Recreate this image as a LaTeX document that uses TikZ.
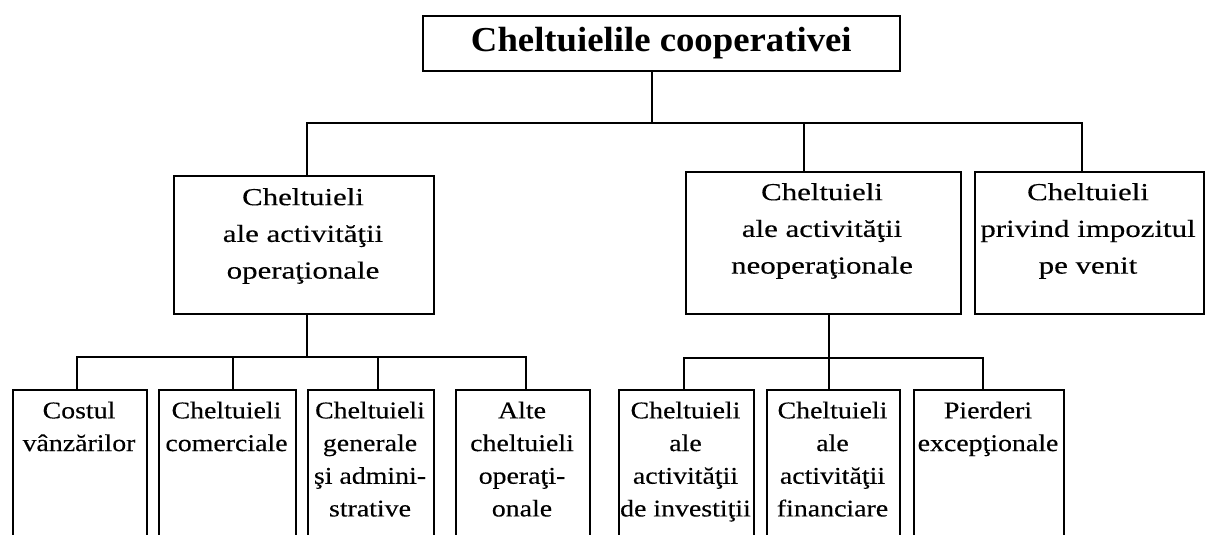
\documentclass[tikz,border=0pt]{standalone}
\usepackage{fontspec}
\setmainfont{Liberation Serif}
\newfontfamily\midfont[FakeStretch=1.26,FakeBold=0.3]{Liberation Serif}
\newfontfamily\lowfont[FakeStretch=1.16,FakeBold=0.3]{Liberation Serif}
\newfontfamily\topfont[FakeStretch=1.05]{Liberation Serif}
\usetikzlibrary{calc}
\begin{document}
\begin{tikzpicture}[x=1pt,y=-1pt,
  box/.style={draw, line width=1.6pt, inner sep=0pt, anchor=north west},
  conn/.style={line width=1.3pt},
  midtxt/.style={font=\midfont\fontsize{24.5}{36.7}\selectfont, align=center, inner sep=0pt, anchor=north},
  lowtxt/.style={font=\lowfont\fontsize{24}{32.7}\selectfont, align=center, inner sep=0pt, anchor=north}]
\useasboundingbox (0,0) rectangle (1205,535);
\clip (0,0) rectangle (1205,535);
% top
\node[box, minimum width=477, minimum height=55, font=\topfont\bfseries\fontsize{35}{40}\selectfont] (top) at (422,15) {Cheltuielile cooperativei};
% level 2
\node[box, minimum width=260, minimum height=138] (op) at (173,175) {};
\node[box, minimum width=275, minimum height=142] (neop) at (685,171) {};
\node[box, minimum width=229, minimum height=142] (imp) at (974,171) {};
\node[midtxt] (opt) at (303,188) {Cheltuieli\\ale activităţii\\operaţionale};
\node[midtxt] (neopt) at (822,183) {Cheltuieli\\ale activităţii\\neoperaţionale};
\node[midtxt] (impt) at (1088,183) {Cheltuieli\\privind impozitul\\pe venit};
% level 3
\node[box, minimum width=134, minimum height=200] (c1) at (12,389) {};
\node[box, minimum width=137, minimum height=200] (c2) at (158,389) {};
\node[box, minimum width=126, minimum height=200] (c3) at (307,389) {};
\node[box, minimum width=134, minimum height=200] (c4) at (455,389) {};
\node[box, minimum width=135, minimum height=200] (c5) at (618,389) {};
\node[box, minimum width=133, minimum height=200] (c6) at (766,389) {};
\node[box, minimum width=150, minimum height=200] (c7) at (913,389) {};
\node[lowtxt] (c1t) at (79,401.5) {Costul\\vânzărilor};
\node[lowtxt] (c2t) at (226.5,401.5) {Cheltuieli\\comerciale};
\node[lowtxt] (c3t) at (370,401.5) {Cheltuieli\\generale\\şi admini-\\strative};
\node[lowtxt] (c4t) at (522,401.5) {Alte\\cheltuieli\\operaţi-\\onale};
\node[lowtxt] (c5t) at (685.5,401.5) {Cheltuieli\\ale\\activităţii\\de investiţii};
\node[lowtxt] (c6t) at (832.5,401.5) {Cheltuieli\\ale\\activităţii\\financiare};
\node[lowtxt] (c7t) at (988,401.5) {Pierderi\\excepţionale};
% connectors top
\coordinate (j0) at (652,123);
\coordinate (jl) at (307,123);
\coordinate (jn) at (804,123);
\coordinate (jr) at (1082,123);
\draw[conn] (top.south -| j0) -- (j0);
\draw[conn] (op.north -| jl) -- (jl) -- (jr) -- (imp.north -| jr);
\draw[conn] (jn) -- (neop.north -| jn);
% connectors bottom left
\coordinate (k0) at (307,357);
\coordinate (k1) at (77,357);
\coordinate (k2) at (233,357);
\coordinate (k3) at (378,357);
\coordinate (k4) at (526,357);
\draw[conn] (op.south -| k0) -- (k0);
\draw[conn] (c1.north -| k1) -- (k1) -- (k4) -- (c4.north -| k4);
\draw[conn] (k2) -- (c2.north -| k2);
\draw[conn] (k3) -- (c3.north -| k3);
% connectors bottom right
\coordinate (m0) at (829,358);
\coordinate (m1) at (684,358);
\coordinate (m2) at (983,358);
\draw[conn] (neop.south -| m0) -- (c6.north -| m0);
\draw[conn] (c5.north -| m1) -- (m1) -- (m2) -- (c7.north -| m2);
\end{tikzpicture}
\end{document}
